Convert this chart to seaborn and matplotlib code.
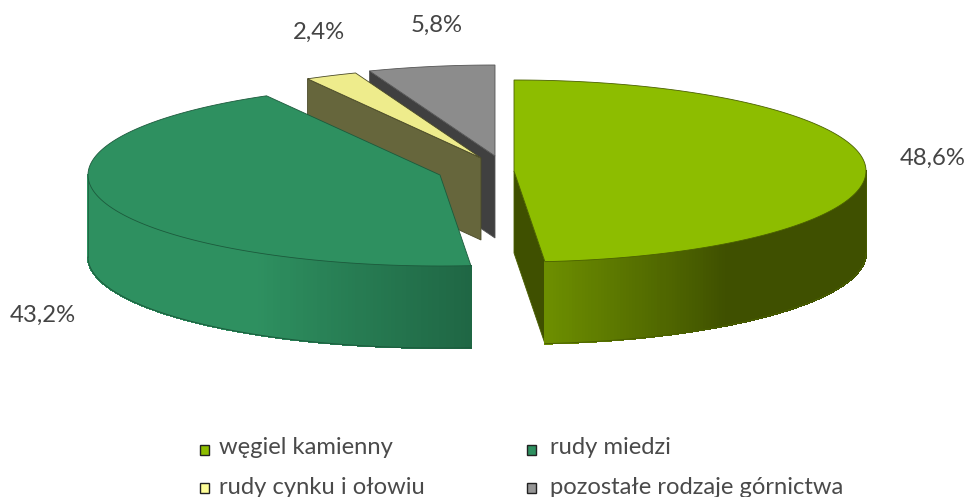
import numpy as np
import matplotlib
matplotlib.use('Agg')
import matplotlib.pyplot as plt
from matplotlib.patches import Polygon, Rectangle
import seaborn as sns

categories = ['węgiel kamienny', 'rudy miedzi', 'rudy cynku i ołowiu', 'pozostałe rodzaje górnictwa']
shares = [48.6, 43.2, 2.4, 5.8]
share_labels = ['48,6%', '43,2%', '2,4%', '5,8%']

top_colors = ['#8dbd00', '#2e9060', '#eeec8c', '#8c8c8c']
cut_colors = ['#3f5000', None, '#66663c', '#404040']
edge_colors = ['#4a6000', '#1c5a3c', '#4a4a28', '#555555']
legend_colors = ['#8dbd00', '#2e9060', '#ffff99', '#969696']

# ellipse and slice placement, pixels
RX, RY, DEPTH = 352, 91, 82
centers = [(514, 171), (440, 175), (481, 158), (495, 156)]
label_pos = [(933, 158), (43, 315), (319, 32), (437, 25)]
legend_pos = [(200, 445), (527, 445), (200, 483), (527, 483)]
legend_text_x = [219, 550, 219, 550]
legend_text_y = [447, 447, 487, 487]
# rim shading: angle where it stops changing, colour there, colour at the cut
rim_shade = {0: (143, '#3f5000', '#6d8f00'), 1: (212, '#2e9060', '#1f6644')}

sns.set_theme(style='white')
plt.rcParams['font.family'] = ['Lato', 'DejaVu Sans']

fig = plt.figure(figsize=(9.67, 4.97), dpi=100)
ax = fig.add_axes([0, 0, 1, 1])
ax.set_xlim(0, 967)
ax.set_ylim(497, 0)
ax.axis('off')


def rim_point(c, deg, drop=0):
    a = np.radians(deg)
    return c[0] + RX * np.sin(a), c[1] - RY * np.cos(a) + drop


ends = np.cumsum(shares) * 3.6
starts = np.concatenate([[0], ends[:-1]])

# back slices first so the front ones cover them
for i in [3, 2, 1, 0]:
    c = centers[i]
    a0, a1 = starts[i], ends[i]
    z = 10 - i

    # flat cut wall facing the viewer
    if cut_colors[i] is not None:
        cut_deg = a1 if i == 0 else a0
        p = rim_point(c, cut_deg)
        wall = [c, p, (p[0], p[1] + DEPTH), (c[0], c[1] + DEPTH)]
        ax.add_patch(Polygon(wall, closed=True, fc=cut_colors[i], ec=edge_colors[i], lw=0.6, zorder=z))

    # curved outer wall with shading
    r0, r1 = max(a0, 90), min(a1, 270)
    if i in rim_shade:
        stop_deg, flat, cut = rim_shade[i]
        steps = np.linspace(r0, r1, 160)
        cut_deg = a1 if i == 0 else a0
        n_blend = 60
        ramp = sns.blend_palette([flat, cut], n_blend)
        for s0, s1 in zip(steps[:-1], steps[1:]):
            t = ((s0 + s1) / 2 - stop_deg) / (cut_deg - stop_deg)
            col = ramp[int(np.clip(t, 0, 1) * (n_blend - 1))]
            quad = [rim_point(c, s0), rim_point(c, s1), rim_point(c, s1, DEPTH), rim_point(c, s0, DEPTH)]
            ax.add_patch(Polygon(quad, closed=True, fc=col, ec=col, lw=0.8, antialiased=False, zorder=z))
        low = np.array([rim_point(c, d, DEPTH) for d in np.linspace(r0, r1, 120)])
        ax.plot(low[:, 0], low[:, 1], color=edge_colors[i], lw=0.7, zorder=z)
        side_deg = 90 if i == 0 else 270
        p = rim_point(c, side_deg)
        ax.plot([p[0], p[0]], [p[1], p[1] + DEPTH], color=edge_colors[i], lw=0.5, zorder=z)

    # top face
    face = [c] + [rim_point(c, d) for d in np.linspace(a0, a1, 200)]
    ax.add_patch(Polygon(face, closed=True, fc=top_colors[i], ec=edge_colors[i], lw=0.6, zorder=z + 0.5))

for txt, (x, y) in zip(share_labels, label_pos):
    ax.text(x, y, txt, ha='center', va='center', fontsize=17.2, color='#444444')

for i, name in enumerate(categories):
    x, y = legend_pos[i]
    ax.add_patch(Rectangle((x, y), 9, 10, fc=legend_colors[i], ec='#222222', lw=1.0))
    ax.text(legend_text_x[i], legend_text_y[i], name, ha='left', va='center', fontsize=17.1, color='#4a4a4a')

fig.savefig('out.png', dpi=100)
